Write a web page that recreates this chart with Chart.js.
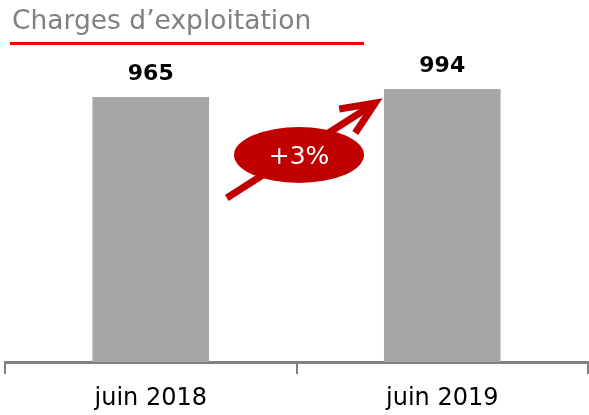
<!DOCTYPE html>
<html>
<head>
<meta charset="utf-8">
<script src="https://cdn.jsdelivr.net/npm/chart.js@4"></script>
<style>
  html, body { margin:0; padding:0; background:#fff; }
  #wrap { position:relative; width:589px; height:415px; }
  #titre { position:absolute; left:12px; top:4px; font-family:"DejaVu Sans", sans-serif; font-size:26.5px; color:#808080; white-space:nowrap; }
  #trait { position:absolute; left:10px; top:42px; width:354px; height:3px; background:#ff0000; }
  canvas { position:absolute; left:0; top:0; }
</style>
</head>
<body>
<div id="wrap">
  <canvas id="graph" width="589" height="415"></canvas>
  <div id="titre">Charges d’exploitation</div>
  <div id="trait"></div>
</div>
<script>
/* =================== Données =================== */
const periodes = ["juin 2018", "juin 2019"];
const charges = [965, 994];
const variation = "+3%";

const ROUGE = "#c00000";
const GRIS_BARRE = "#a6a6a6";
const GRIS_AXE = "#808080";

/* --------------- Étiquettes de valeur --------------- */
const etiquettes = {
  id: "etiquettes",
  afterDatasetsDraw(chart){
    const ctx = chart.ctx;
    ctx.save();
    ctx.font = "bold 22px 'DejaVu Sans'";
    ctx.fillStyle = "#000";
    ctx.textAlign = "center";
    ctx.textBaseline = "bottom";
    chart.getDatasetMeta(0).data.forEach((bar, i)=>{
      ctx.fillText(charges[i], bar.x, bar.y - 12);
    });
    ctx.restore();
  }
};

/* --------------- Flèche + ellipse --------------- */
const fleche = {
  id: "fleche",
  afterDraw(chart){
    const ctx = chart.ctx;
    const [b0, b1] = chart.getDatasetMeta(0).data;
    // entre les deux barres
    const x1 = b0.x + 76, y1 = 198;
    const x2 = b1.x - 67, y2 = 103;
    ctx.save();
    ctx.strokeStyle = ROUGE;
    ctx.fillStyle = ROUGE;
    ctx.lineWidth = 7;
    ctx.lineCap = "butt";
    ctx.lineJoin = "miter";
    ctx.beginPath();
    ctx.moveTo(x1, y1);
    ctx.lineTo(x2 - 3, y2 + 2);
    ctx.stroke();
    // pointe en chevron
    ctx.beginPath();
    ctx.moveTo(x2 - 36, y2 + 6);
    ctx.lineTo(x2, y2);
    ctx.lineTo(x2 - 20, y2 + 30);
    ctx.stroke();
    // ellipse
    const cx = (chart.chartArea.left + chart.chartArea.right) / 2 + 2.5;
    ctx.beginPath();
    ctx.ellipse(cx, 155, 65, 28, 0, 0, Math.PI*2);
    ctx.fill();
    ctx.fillStyle = "#fff";
    ctx.font = "25px 'DejaVu Sans'";
    ctx.textAlign = "center";
    ctx.textBaseline = "middle";
    ctx.fillText(variation, cx, 157);
    ctx.restore();
  }
};

new Chart(document.getElementById("graph"), {
  type: "bar",
  data: {
    labels: periodes,
    datasets: [{
      data: charges,
      backgroundColor: GRIS_BARRE,
      borderWidth: 0,
      categoryPercentage: 0.8,
      barPercentage: 0.5
    }]
  },
  options: {
    responsive: false,
    animation: false,
    events: [],
    layout: { padding: { left: 5, right: 1, top: 60, bottom: 0 } },
    plugins: { legend: { display:false }, tooltip: { enabled:false } },
    scales: {
      x: {
        afterFit: (scale)=>{ scale.height = 53; },
        border: { display:true, color:GRIS_AXE, width:3 },
        grid: { display:true, drawOnChartArea:false, color:GRIS_AXE, lineWidth:2, tickLength:12, offset:true },
        ticks: { color:"#000", font:{ family:"DejaVu Sans", size:24, lineHeight:1 }, padding:13 }
      },
      y: {
        display: false,
        min: 0,
        max: 1100
      }
    }
  },
  plugins: [etiquettes, fleche]
});
</script>
</body>
</html>
